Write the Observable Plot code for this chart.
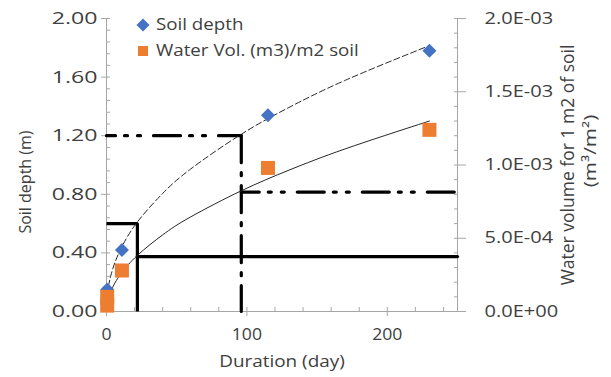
<!DOCTYPE html>
<html><head><meta charset="utf-8">
<script src="https://cdn.jsdelivr.net/npm/d3@7"></script>
<script src="https://cdn.jsdelivr.net/npm/@observablehq/plot@0.6"></script>
<style>
html,body{margin:0;padding:0;background:#fff;}
#chart{position:relative;width:611px;height:377px;font-family:"Open Sans",sans-serif;color:#404040;}
.leg{position:absolute;left:0;top:0;font-size:16px;line-height:22px;white-space:nowrap;}
.leg svg{position:absolute;}
.leg span{display:inline-block;transform:scaleX(1.17);transform-origin:left center;}
</style></head><body><div id="chart"></div>
<script>
// ---- data ----
const soilDays   = [0.5, 11, 115, 230];
const soilDepth  = [0.15, 0.42, 1.34, 1.78];           // m
const waterDays  = [0.5, 0.5, 11, 115, 230];
const waterVol   = [1.0e-4, 0.4e-4, 2.8e-4, 9.8e-4, 1.24e-3]; // m3/m2

// trendlines as drawn in the reference
const soilTrendDays  = [0.1, 1, 3, 6, 11, 22, 40, 60, 96, 130, 170, 230];
const soilTrend      = [0.05, 0.146, 0.242, 0.334, 0.443, 0.611, 0.806, 0.973, 1.21, 1.393, 1.578, 1.815];
const waterTrendDays = [0.1, 1, 3, 6, 11, 22, 40, 60, 96, 130, 170, 230];
const waterTrend     = [2.3e-5, 7.7e-5, 1.36e-4, 1.95e-4, 2.67e-4, 3.83e-4, 5.23e-4, 6.46e-4, 8.24e-4, 9.65e-4, 1.11e-3, 1.30e-3];

// guide lines (day, depth m)
const boxDays = [0, 22, 22],   boxDepth = [0.60, 0.60, 0];
const lowDays = [22, 250],     lowDepth = [0.375, 0.375];
const dashHDays = [0, 96],     dashHDepth = [1.20, 1.20];
const dashVDays = [96, 96],    dashVDepth = [1.20, 0];
const dash2Days = [96, 250],   dash2Depth = [0.815, 0.815];

// axes
const depthTicks = [0, 0.4, 0.8, 1.2, 1.6, 2.0];
const depthMinor = d3.range(0, 2.0001, 0.08);
const waterTicks = [0, 5e-4, 1e-3, 1.5e-3, 2e-3];
const waterMinor = d3.range(0, 2.0001e-3, 1e-4);
const dayTicks = [0, 100, 200];
const dayMinor = d3.range(0, 250, 20);
const xTitle = "Duration (day)";
const yTitle = "Soil depth (m)";
const y2Title1 = "Water volume for 1 m2 of soil";
const y2Title2 = "(m\u00b3/m\u00b2)";
const legendLabels = ["Soil depth", "Water Vol. (m3)/m2 soil"];
const blue = "#4472C4", orange = "#ED7D31";

const K = 2.0 / 2.0e-3; // right axis -> left axis units
const zip = (xs, ys, f = 1) => xs.map((x, i) => ({x, y: ys[i] * f}));
const fmtE = w => { const [m, e] = w.toExponential(1).split("e"); const n = +e; return m + "E" + (n < 0 ? "-" : "+") + String(Math.abs(n)).padStart(2, "0"); };
const fmtD = d3.format(".2f");
const axisGray = "#a6a6a6";
const dashDotDot = "27,9,3,10,3,13";
const dashDot = "27,10,3,10";

const chart = Plot.plot({
  width: 611, height: 377,
  marginLeft: 106, marginRight: 154, marginTop: 18, marginBottom: 66,
  x: {domain: [0, 250]},
  y: {domain: [0, 2]},
  style: {fontFamily: "'Open Sans', sans-serif", fontSize: "16px", color: "#404040", background: "white"},
  marks: [
    Plot.ruleY([0], {stroke: axisGray}),
    Plot.ruleX([0], {stroke: axisGray}),
    Plot.ruleX([250], {stroke: axisGray}),
    Plot.axisY(depthTicks, {anchor: "left", tickSize: 5, tickPadding: 4, tickFormat: fmtD, label: null, stroke: axisGray, fontSize: 17}),
    Plot.axisY(depthMinor, {anchor: "left", tickSize: 4, dx: 4, text: null, label: null, stroke: axisGray}),
    Plot.axisY(waterTicks.map(w => w * K), {anchor: "right", tickSize: 8, tickPadding: 19, tickFormat: v => fmtE(v / K), label: null, stroke: axisGray}),
    Plot.axisY(waterMinor.map(w => w * K), {anchor: "right", tickSize: 4, dx: -4, text: null, label: null, stroke: axisGray}),
    Plot.axisX(dayTicks, {anchor: "bottom", tickSize: 5, tickPadding: 12, label: null, stroke: axisGray}),
    Plot.axisX(dayMinor, {anchor: "bottom", tickSize: 4, dy: -4, text: null, label: null, stroke: axisGray}),
    Plot.text([xTitle], {text: d => d, frameAnchor: "bottom", dy: 55, textAnchor: "middle"}),
    Plot.text([yTitle], {text: d => d, frameAnchor: "left", dx: -81, dy: 17, rotate: -90, textAnchor: "middle"}),
    Plot.text([y2Title1], {text: d => d, frameAnchor: "right", dx: 111, dy: 0, rotate: -90, textAnchor: "middle", fontSize: 17.5}),
    Plot.text([y2Title2], {text: d => d, frameAnchor: "right", dx: 133, dy: -14, rotate: -90, textAnchor: "middle", fontSize: 17}),
    // guide lines
    Plot.line(zip(boxDays, boxDepth), {x: "x", y: "y", stroke: "black", strokeWidth: 3.2, strokeLinejoin: "miter", strokeLinecap: "butt"}),
    Plot.line(zip(lowDays, lowDepth), {x: "x", y: "y", stroke: "black", strokeWidth: 3.2}),
    Plot.line(zip(dashHDays, dashHDepth), {x: "x", y: "y", stroke: "black", strokeWidth: 3.2, strokeDasharray: dashDotDot, strokeDashoffset: 18}),
    Plot.line(zip(dashVDays, dashVDepth), {x: "x", y: "y", stroke: "black", strokeWidth: 3.2, strokeDasharray: dashDot}),
    Plot.line(zip(dash2Days, dash2Depth), {x: "x", y: "y", stroke: "black", strokeWidth: 3.2, strokeDasharray: dashDotDot, strokeDashoffset: 9}),
    // trendlines
    Plot.line(zip(soilTrendDays, soilTrend), {x: "x", y: "y", curve: "natural", stroke: "#262626", strokeWidth: 1, strokeDasharray: "6,3"}),
    Plot.line(zip(waterTrendDays, waterTrend, K), {x: "x", y: "y", curve: "natural", stroke: "#262626", strokeWidth: 1}),
    // data markers
    Plot.dot(zip(soilDays, soilDepth), {x: "x", y: "y", symbol: "diamond2", r: 6.3, fill: blue, stroke: "none"}),
    Plot.dot(zip(waterDays, waterVol, K), {x: "x", y: "y", symbol: "square", r: 7.9, fill: orange, stroke: "none"})
  ]
});
const host = document.getElementById("chart");
host.appendChild(chart);

// texts in the reference are drawn wider (along their baseline) than their height suggests
function stretch(t, s) {
  const w = t.getComputedTextLength();
  t.setAttribute("textLength", (w * s).toFixed(1));
  t.setAttribute("lengthAdjust", "spacingAndGlyphs");
}
const leftSet = new Set(depthTicks.map(fmtD));
const xSet = new Set(dayTicks.map(String));
chart.querySelectorAll("text").forEach(t => {
  const s = t.textContent;
  if (leftSet.has(s)) stretch(t, 1.36);
  else if (s.includes("E")) stretch(t, 1.25);
  else if (xSet.has(s)) stretch(t, 1.1);
  else if (s === xTitle) stretch(t, 1.18);
  else if (s === y2Title2) stretch(t, 1.22);
});

// legend overlay
const legendItems = [
  {label: legendLabels[0], color: blue, shape: "diamond", top: 13},
  {label: legendLabels[1], color: orange, shape: "square", top: 39}
];
for (const it of legendItems) {
  const div = document.createElement("div");
  div.className = "leg";
  div.style.left = "136px";
  div.style.top = it.top + "px";
  const marker = it.shape === "diamond"
    ? `<svg width="14" height="14" style="left:0;top:5px"><path d="M7,0.5L13.5,7L7,13.5L0.5,7Z" fill="${it.color}"/></svg>`
    : `<svg width="12" height="12" style="left:1px;top:6px"><rect width="10" height="10" x="1" y="1" fill="${it.color}"/></svg>`;
  div.innerHTML = marker + `<span style="margin-left:20px">${it.label}</span>`;
  host.appendChild(div);
}
</script>
</body></html>
